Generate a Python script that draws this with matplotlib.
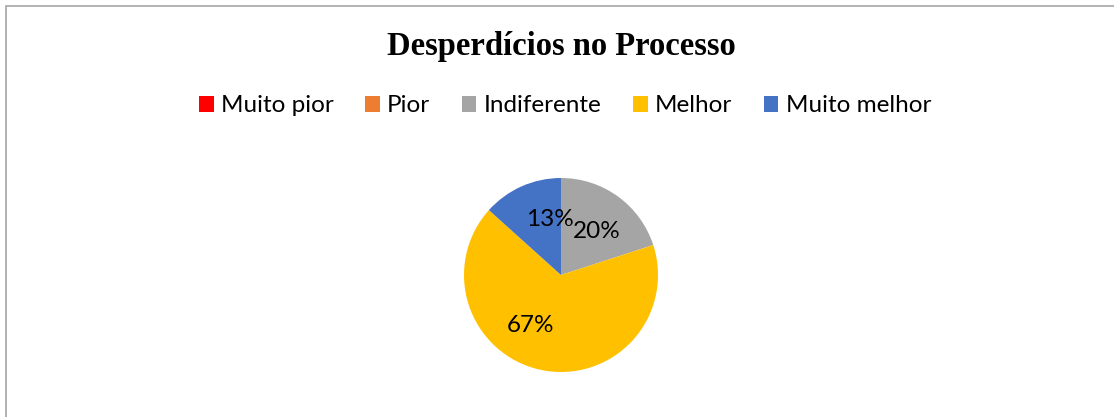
import matplotlib.pyplot as plt
from matplotlib.patches import Rectangle

categorias = ["Muito pior", "Pior", "Indiferente", "Melhor", "Muito melhor"]
respostas = [0, 0, 3, 10, 2]
cores = ["#FF0000", "#ED7D31", "#A5A5A5", "#FFC000", "#4472C4"]

# posicao manual dos rotulos (raio 1), como no Excel
pos_rotulos = {"Indiferente": (0.37, 0.45), "Melhor": (-0.31, -0.52),
               "Muito melhor": (-0.11, 0.57)}


def rotulo(p):
    return f"{p:.0f}%" if p > 0.5 else ""


fig = plt.figure(figsize=(11.14, 4.17), dpi=100)
fig.patch.set_facecolor("white")

# moldura do grafico
fig.add_artist(Rectangle((6 / 1114, -0.1), 1.2, 1 - 5.5 / 417 + 0.1,
                         transform=fig.transFigure, fill=False,
                         edgecolor="#A6A6A6", linewidth=1.2))

ax = fig.add_axes([464 / 1114, 45 / 417, 194 / 1114, 194 / 417])
fatias, textos, pcts = ax.pie(respostas, colors=cores, startangle=90,
                              counterclock=False, autopct=rotulo,
                              pctdistance=0.6,
                              wedgeprops=dict(linewidth=0),
                              textprops=dict(family="Lato", fontsize=17.5,
                                             color="black"))
for nome, t in zip(categorias, pcts):
    if nome in pos_rotulos:
        t.set_position(pos_rotulos[nome])
ax.set_xlim(-1, 1)
ax.set_ylim(-1, 1)
ax.set_aspect("equal")

fig.text(561 / 1114, 1 - 47 / 417, "Desperdícios no Processo",
         ha="center", va="center", family="Liberation Serif",
         fontweight="bold", fontsize=23.5)

fig.legend(fatias, categorias, loc="center",
           bbox_to_anchor=(565 / 1114, 1 - 106 / 417), ncol=5,
           frameon=False, prop=dict(family="Lato", size=17.5),
           handlelength=0.6, handleheight=0.6, handletextpad=0.3,
           columnspacing=1.3)

fig.savefig("out.png", dpi=100, facecolor="white")
